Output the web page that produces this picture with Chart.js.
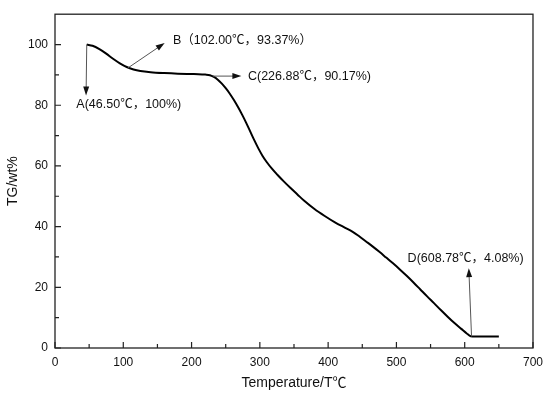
<!DOCTYPE html>
<html>
<head>
<meta charset="utf-8">
<script src="https://cdn.jsdelivr.net/npm/chart.js@4.4.1/dist/chart.umd.min.js"></script>
<style>
  html, body { margin: 0; padding: 0; background: #fff; }
  #wrap { width: 550px; height: 398px; }
</style>
</head>
<body>
<div id="wrap"><canvas id="tg"></canvas></div>
<script>
// TG curve (temperature in °C, mass in %)
const temps = [46.5, 55, 65, 75, 85, 95, 105, 115, 125, 140, 160, 180, 200, 210, 220, 226.88,
  232, 238, 244, 250, 256, 262, 268, 274, 280, 286, 292, 298, 304, 310, 318, 326, 335, 345,
  355, 365, 380, 395, 410, 425, 436, 445, 455, 465, 475, 485, 495, 505, 515, 525, 535, 545,
  555, 565, 575, 585, 595, 603, 608.78, 615, 630, 650];
const mass = [100, 99.6, 98.5, 97.0, 95.3, 93.8, 92.6, 91.8, 91.3, 90.9, 90.6, 90.4, 90.3, 90.25, 90.1, 89.9,
  89.4, 88.5, 87.2, 85.6, 83.8, 81.7, 79.4, 76.9, 74.2, 71.3, 68.4, 65.7, 63.3, 61.3, 59.0, 57.0, 54.9, 52.7,
  50.6, 48.5, 45.8, 43.5, 41.4, 39.6, 38.3, 36.9, 35.2, 33.5, 31.7, 29.8, 27.9, 25.9, 23.8, 21.6, 19.3, 17.0,
  14.8, 12.5, 10.3, 8.2, 6.3, 4.8, 3.9, 3.8, 3.8, 3.8];

const xTicks = [0, 100, 200, 300, 400, 500, 600, 700];
const yTicks = [0, 20, 40, 60, 80, 100];

// labelled points: arrow tail -> head, then text start (all in data units)
const notes = [
  { text: "A(46.50℃，100%)",       from: [46.5, 100],  to: [45.5, 83.2],  at: [31.3, 80.2] },
  { text: "B（102.00℃，93.37%）",   from: [106.9, 92.3], to: [160.6, 100.5], at: [172.8, 101.4] },
  { text: "C(226.88℃，90.17%)",     from: [231.3, 89.6], to: [272.9, 89.6], at: [282.6, 89.6] },
  { text: "D(608.78℃，4.08%)",      from: [610, 3.8],   to: [606, 26.3],   at: [516.4, 29.5] }
];

const FONT = "'Liberation Sans', Arial, 'Noto Sans CJK SC', sans-serif";

const framePlugin = {
  id: "frameTicks",
  afterDraw(chart) {
    const { ctx, chartArea: a, scales } = chart;
    const xs = scales.x, ys = scales.y;
    ctx.save();
    ctx.strokeStyle = "#222";
    ctx.lineWidth = 1.3;
    ctx.strokeRect(a.left, a.top, a.right - a.left, a.bottom - a.top);

    ctx.lineWidth = 1.2;
    ctx.beginPath();
    for (let v = 0; v <= 700; v += 50) {
      const px = xs.getPixelForValue(v);
      const len = v % 100 === 0 ? 6 : 4;
      ctx.moveTo(px, a.bottom);
      ctx.lineTo(px, a.bottom - len);
    }
    for (let v = 0; v <= 100; v += 10) {
      const py = ys.getPixelForValue(v);
      const len = v % 20 === 0 ? 6 : 4;
      ctx.moveTo(a.left, py);
      ctx.lineTo(a.left + len, py);
    }
    ctx.stroke();

    // annotations
    ctx.font = "12.5px " + FONT;
    ctx.textBaseline = "middle";
    ctx.fillStyle = "#111";
    for (const n of notes) {
      const x1 = xs.getPixelForValue(n.from[0]), y1 = ys.getPixelForValue(n.from[1]);
      const x2 = xs.getPixelForValue(n.to[0]), y2 = ys.getPixelForValue(n.to[1]);
      const ang = Math.atan2(y2 - y1, x2 - x1);
      const hl = 9, hw = 3;
      ctx.strokeStyle = "#555";
      ctx.lineWidth = 1;
      ctx.beginPath();
      ctx.moveTo(x1, y1);
      ctx.lineTo(x2 - Math.cos(ang) * hl * 0.8, y2 - Math.sin(ang) * hl * 0.8);
      ctx.stroke();
      ctx.beginPath();
      ctx.moveTo(x2, y2);
      ctx.lineTo(x2 - Math.cos(ang) * hl - Math.sin(ang) * hw, y2 - Math.sin(ang) * hl + Math.cos(ang) * hw);
      ctx.lineTo(x2 - Math.cos(ang) * hl + Math.sin(ang) * hw, y2 - Math.sin(ang) * hl - Math.cos(ang) * hw);
      ctx.closePath();
      ctx.fill();
      ctx.fillText(n.text, xs.getPixelForValue(n.at[0]), ys.getPixelForValue(n.at[1]));
    }
    ctx.restore();
  }
};

new Chart(document.getElementById("tg"), {
  type: "scatter",
  data: {
    datasets: [{
      data: temps.map((t, i) => ({ x: t, y: mass[i] })),
      showLine: true,
      borderColor: "#000",
      borderWidth: 2,
      pointRadius: 0,
      tension: 0.4,
      cubicInterpolationMode: "monotone"
    }]
  },
  options: {
    responsive: true,
    maintainAspectRatio: false,
    animation: false,
    devicePixelRatio: 1,
    layout: { padding: { top: 7, right: 17, left: 0, bottom: 0 } },
    plugins: { legend: { display: false }, tooltip: { enabled: false } },
    scales: {
      x: {
        type: "linear", min: 0, max: 700,
        grid: { display: false, drawTicks: false },
        border: { display: false },
        afterBuildTicks: s => { s.ticks = xTicks.map(v => ({ value: v })); },
        afterFit: s => { s.height = 50; },
        ticks: { color: "#111", padding: 7, font: { family: FONT, size: 12 }, maxRotation: 0 },
        title: { display: true, text: "Temperature/T℃", color: "#111",
                 font: { family: FONT, size: 14 }, padding: { top: 0, bottom: 6 } }
      },
      y: {
        type: "linear", min: 0, max: 110,
        grid: { display: false, drawTicks: false },
        border: { display: false },
        afterBuildTicks: s => { s.ticks = yTicks.map(v => ({ value: v })); },
        afterFit: s => { s.width = 55; },
        ticks: { color: "#111", padding: 7, font: { family: FONT, size: 12 } },
        title: { display: true, text: "TG/wt%", color: "#111",
                 font: { family: FONT, size: 14 }, padding: { top: 5, bottom: 0 } }
      }
    }
  },
  plugins: [framePlugin]
});
</script>
</body>
</html>
